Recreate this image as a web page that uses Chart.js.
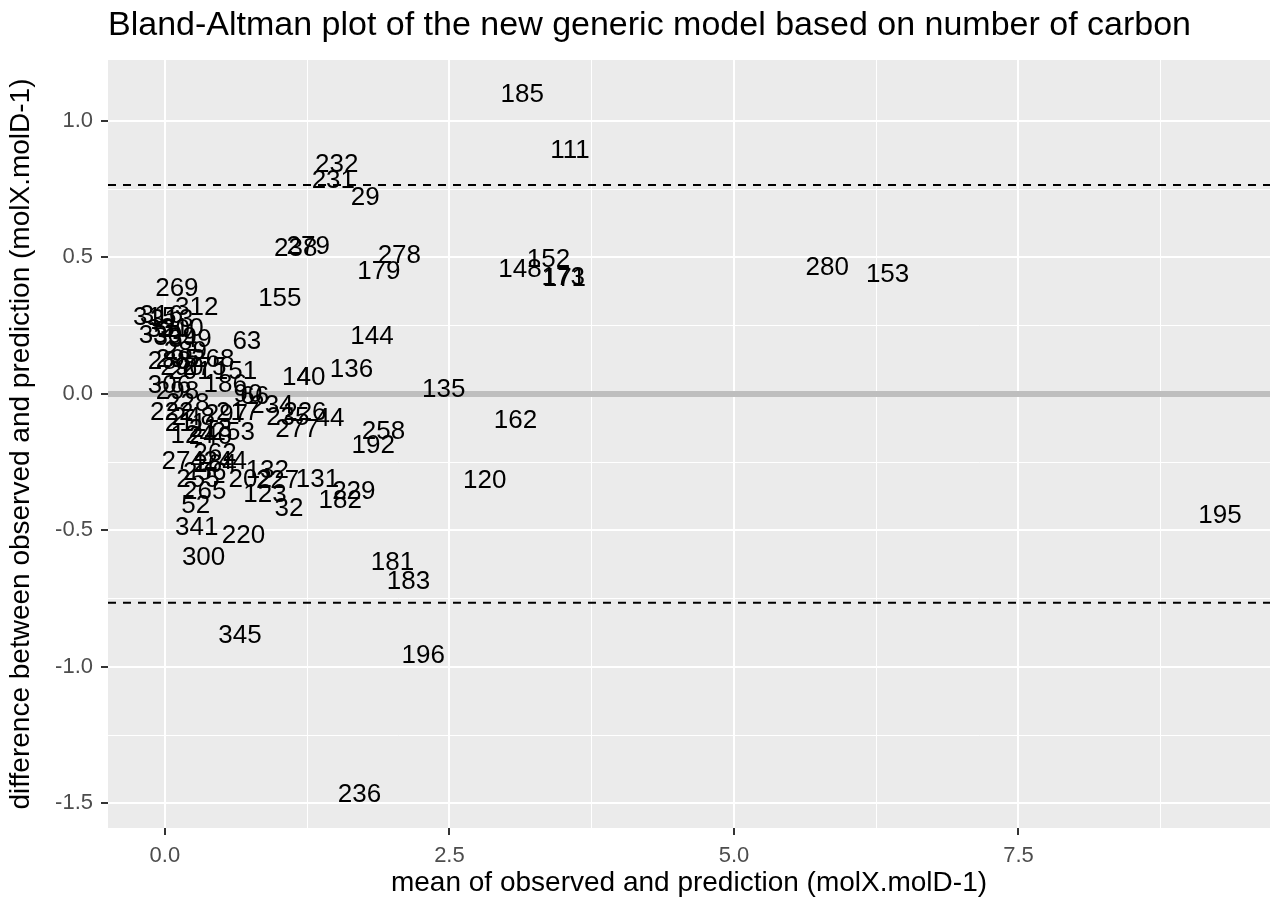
<!DOCTYPE html>
<html>
<head>
<meta charset="utf-8">
<script src="https://cdn.jsdelivr.net/npm/chart.js@4"></script>
<style>
  html, body { margin: 0; padding: 0; background: #fff; }
  #wrap { width: 1277px; height: 900px; }
</style>
</head>
<body>
<div id="wrap"><canvas id="baChart" width="1277" height="900"></canvas></div>
<script>
// Bland-Altman data
const pointIds = [
  '185', '111', '232', '231', '29', '238', '279', '278', '179', '148',
  '152', '173', '171', '280', '153', '269', '312', '155', '63', '144',
  '136', '140', '4', '135', '162', '258', '192', '44', '277', '226',
  '235', '120', '131', '229', '182', '132', '202', '227', '123', '32',
  '52', '341', '220', '300', '181', '183', '345', '196', '236', '195',
  '315', '316', '313', '310', '320', '330', '339', '349', '289', '288',
  '295', '290', '268', '275', '151', '201', '306', '298', '186', '90',
  '66', '234', '228', '222', '297', '217', '248', '211', '213', '253',
  '124', '240', '274', '262', '264', '244', '256', '255', '265'
];
const meanValues = [
  3.14, 3.56, 1.51, 1.48, 1.76, 1.15, 1.26, 2.06, 1.88, 3.12,
  3.37, 3.50, 3.51, 5.82, 6.35, 0.105, 0.28, 1.01, 0.72, 1.82,
  1.64, 1.22, 1.22, 2.45, 3.08, 1.92, 1.83, 1.45, 1.16, 1.23,
  1.08, 2.81, 1.34, 1.66, 1.54, 0.90, 0.75, 0.99, 0.88, 1.09,
  0.27, 0.28, 0.69, 0.34, 2.00, 2.14, 0.66, 2.27, 1.71, 9.27,
  -0.09, -0.03, 0.06, 0.15, 0.03, -0.04, 0.09, 0.22, 0.18, 0.04,
  0.11, 0.15, 0.42, 0.35, 0.62, 0.22, 0.04, 0.11, 0.53, 0.73,
  0.79, 0.94, 0.20, 0.06, 0.54, 0.64, 0.25, 0.18, 0.40, 0.60,
  0.24, 0.40, 0.16, 0.44, 0.44, 0.53, 0.35, 0.29, 0.35
];
const diffValues = [
  1.095, 0.89, 0.84, 0.78, 0.72, 0.53, 0.54, 0.505, 0.447, 0.454,
  0.49, 0.425, 0.42, 0.46, 0.436, 0.385, 0.315, 0.348, 0.19, 0.21,
  0.09, 0.06, 0.06, 0.015, -0.10, -0.14, -0.19, -0.09, -0.13, -0.07,
  -0.088, -0.32, -0.315, -0.36, -0.39, -0.28, -0.315, -0.32, -0.37, -0.42,
  -0.41, -0.49, -0.52, -0.60, -0.62, -0.69, -0.886, -0.96, -1.47, -0.447,
  0.28, 0.286, 0.27, 0.24, 0.234, 0.212, 0.205, 0.198, 0.154, 0.117,
  0.125, 0.095, 0.125, 0.095, 0.08, 0.08, 0.03, 0.007, 0.033, -0.004,
  -0.01, -0.044, -0.037, -0.07, -0.077, -0.07, -0.088, -0.11, -0.13, -0.143,
  -0.154, -0.158, -0.25, -0.22, -0.26, -0.25, -0.29, -0.315, -0.36
];

// reference lines: mean difference and limits of agreement
const meanDiff = 0.0;
const upperLoA = 0.765;
const lowerLoA = -0.765;

const xTickLabels = ['0.0', '2.5', '5.0', '7.5'];
const yTickLabels = ['-1.5', '-1.0', '-0.5', '0.0', '0.5', '1.0'];

const chartTitle = 'Bland-Altman plot of the new generic model based on number of carbon';
const xTitle = 'mean of observed and prediction (molX.molD-1)';
const yTitle = 'difference between observed and prediction (molX.molD-1)';

const FONT = '"Liberation Sans", Arial, Helvetica, sans-serif';

const isMajor = (v) => Math.abs(v / 0.5 - Math.round(v / 0.5)) < 1e-6;
const isMajorX = (v) => Math.abs(v / 2.5 - Math.round(v / 2.5)) < 1e-6;

// panel background + title
const panelPlugin = {
  id: 'panel',
  beforeDraw(chart) {
    const { ctx, chartArea: a } = chart;
    ctx.save();
    ctx.fillStyle = '#EBEBEB';
    ctx.fillRect(a.left, a.top, a.right - a.left, a.bottom - a.top);
    ctx.fillStyle = '#000';
    ctx.font = '34px ' + FONT;
    ctx.textBaseline = 'middle';
    ctx.textAlign = 'left';
    ctx.fillText(chartTitle, a.left, 26);
    ctx.restore();
  }
};

// horizontal reference lines
const refLinesPlugin = {
  id: 'refLines',
  beforeDatasetsDraw(chart) {
    const { ctx, chartArea: a, scales } = chart;
    const y = scales.y;
    ctx.save();
    ctx.strokeStyle = '#BEBEBE';
    ctx.lineWidth = 6;
    ctx.beginPath();
    ctx.moveTo(a.left, y.getPixelForValue(meanDiff));
    ctx.lineTo(a.right, y.getPixelForValue(meanDiff));
    ctx.stroke();

    ctx.strokeStyle = '#000';
    ctx.lineWidth = 2;
    ctx.setLineDash([8, 7]);
    [upperLoA, lowerLoA].forEach(v => {
      const py = y.getPixelForValue(v);
      ctx.beginPath();
      ctx.moveTo(a.left, py);
      ctx.lineTo(a.right, py);
      ctx.stroke();
    });
    ctx.restore();
  }
};

// id labels at each point position
const labelPlugin = {
  id: 'idLabels',
  afterDatasetsDraw(chart) {
    const { ctx } = chart;
    const meta = chart.getDatasetMeta(0);
    ctx.save();
    ctx.fillStyle = '#000';
    ctx.font = '26px ' + FONT;
    ctx.textAlign = 'center';
    ctx.textBaseline = 'middle';
    meta.data.forEach((pt, i) => {
      ctx.fillText(pointIds[i], pt.x, pt.y);
    });
    ctx.restore();
  }
};

new Chart(document.getElementById('baChart'), {
  type: 'scatter',
  data: {
    datasets: [{
      data: meanValues.map((x, i) => ({ x: x, y: diffValues[i] })),
      pointRadius: 0,
      pointHoverRadius: 0
    }]
  },
  options: {
    responsive: false,
    animation: false,
    events: [],
    layout: { padding: { top: 60, right: 7, left: 0, bottom: 0 } },
    plugins: {
      legend: { display: false },
      tooltip: { enabled: false }
    },
    scales: {
      x: {
        type: 'linear',
        min: -0.5,
        max: 9.71,
        border: { display: false },
        afterFit: (s) => { s.height = 72; },
        grid: {
          color: '#FFFFFF',
          lineWidth: (c) => (c.tick && isMajorX(c.tick.value) ? 2 : 1),
          tickColor: (c) => (c.tick && isMajorX(c.tick.value) ? '#333333' : 'rgba(0,0,0,0)'),
          tickLength: 7,
          tickWidth: 2
        },
        ticks: {
          stepSize: 1.25,
          includeBounds: false,
          maxRotation: 0,
          autoSkip: false,
          padding: 8,
          color: '#4D4D4D',
          font: { family: FONT, size: 22 },
          callback: (v) => {
            const i = Math.round(v / 2.5);
            return isMajorX(v) && xTickLabels[i] !== undefined ? xTickLabels[i] : '';
          }
        },
        title: {
          display: true,
          text: xTitle,
          color: '#000',
          font: { family: FONT, size: 28 },
          padding: { top: 0, bottom: 0 }
        }
      },
      y: {
        type: 'linear',
        min: -1.59,
        max: 1.223,
        border: { display: false },
        afterFit: (s) => { s.width = 108; },
        grid: {
          color: '#FFFFFF',
          lineWidth: (c) => (c.tick && isMajor(c.tick.value) ? 2 : 1),
          tickColor: (c) => (c.tick && isMajor(c.tick.value) ? '#333333' : 'rgba(0,0,0,0)'),
          tickLength: 7,
          tickWidth: 2
        },
        ticks: {
          stepSize: 0.25,
          includeBounds: false,
          autoSkip: false,
          padding: 8,
          color: '#4D4D4D',
          font: { family: FONT, size: 22 },
          callback: (v) => {
            const i = Math.round(v / 0.5) + 3;
            return isMajor(v) && yTickLabels[i] !== undefined ? yTickLabels[i] : '';
          }
        },
        title: {
          display: true,
          text: yTitle,
          color: '#000',
          font: { family: FONT, size: 28 },
          padding: { top: 4, bottom: 0 }
        }
      }
    }
  },
  plugins: [panelPlugin, refLinesPlugin, labelPlugin]
});
</script>
</body>
</html>
